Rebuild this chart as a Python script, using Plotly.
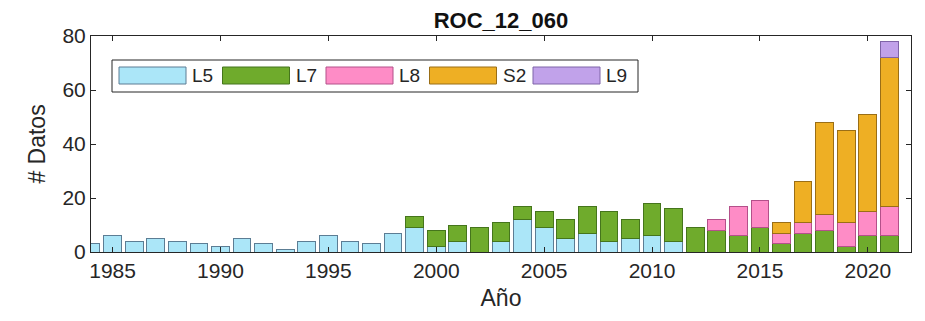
import plotly.graph_objects as go

years = list(range(1984, 2022))
L5 = [3, 6, 4, 5, 4, 3, 2, 5, 3, 1, 4, 6, 4, 3, 7, 9, 2, 4, 0, 4, 12, 9, 5, 7, 4, 5, 6, 4,
      0, 0, 0, 0, 0, 0, 0, 0, 0, 0]
L7 = [0, 0, 0, 0, 0, 0, 0, 0, 0, 0, 0, 0, 0, 0, 0, 4, 6, 6, 9, 7, 5, 6, 7, 10, 11, 7, 12, 12,
      9, 8, 6, 9, 3, 7, 8, 2, 6, 6]
L8 = [0] * 29 + [4, 11, 10, 4, 4, 6, 9, 9, 11]
S2 = [0] * 32 + [4, 15, 34, 34, 36, 55]
L9 = [0] * 37 + [6]

series_names = ["L5", "L7", "L8", "S2", "L9"]
series_values = [L5, L7, L8, S2, L9]
fill_colors = ["#abe6f8", "#6fab2c", "#fe8cc6", "#eeaf24", "#c1a2ea"]
edge_colors = ["#5c7d94", "#45751c", "#b4508a", "#9a6e16", "#7f64a8"]

x_ticks = [1985, 1990, 1995, 2000, 2005, 2010, 2015, 2020]
y_ticks = [0, 20, 40, 60, 80]

FONT = "Liberation Sans, Arial, Helvetica, sans-serif"
AX = "#262626"

# page (screenshot) coordinates; the page body has an 8px default margin
OFF = 8
PAGE_W, PAGE_H = 925, 321
W, H = PAGE_W - 2 * OFF, PAGE_H - 2 * OFF
PL, PR, PT, PB = 91, 911, 36, 252

fig = go.Figure()
for name, vals, fc, ec in zip(series_names, series_values, fill_colors, edge_colors):
    fig.add_trace(go.Bar(
        x=years, y=[v if v else None for v in vals], name=name, width=0.82,
        marker=dict(color=fc, line=dict(color=ec, width=1)),
        showlegend=False,
    ))

def px2x(px):
    return (px - PL) / (PR - PL)

def py2y(py):
    return (PB - py) / (PB - PT)

shapes = []
annotations = []
shapes.append(dict(type="rect", xref="paper", yref="paper",
                   x0=px2x(112), x1=px2x(638), y0=py2y(92), y1=py2y(60),
                   line=dict(color=AX, width=1), fillcolor="white", layer="above"))
sw_left = 119
step = 103.5
for i, (name, fc, ec) in enumerate(zip(series_names, fill_colors, edge_colors)):
    x0 = sw_left + i * step
    shapes.append(dict(type="rect", xref="paper", yref="paper",
                       x0=px2x(x0), x1=px2x(x0 + 67), y0=py2y(84), y1=py2y(67),
                       line=dict(color=ec, width=1), fillcolor=fc, layer="above"))
    annotations.append(dict(xref="paper", yref="paper", x=px2x(x0 + 71), y=py2y(75.5),
                            text=name, showarrow=False, xanchor="left", yanchor="middle",
                            font=dict(family=FONT, size=19, color=AX)))

fig.update_layout(
    width=W, height=H,
    margin=dict(l=PL - OFF, r=W - (PR - OFF), t=PT - OFF, b=H - (PB - OFF), autoexpand=False),
    barmode="stack",
    plot_bgcolor="white", paper_bgcolor="white",
    font=dict(family=FONT, size=21, color=AX),
    title=dict(text="<b>ROC_12_060</b>", x=((PL + PR) / 2 - OFF) / W, xanchor="center",
               y=1 - (20 - OFF) / H, yanchor="middle", font=dict(family=FONT, size=22, color="#111")),
    shapes=shapes,
    annotations=annotations,
    xaxis=dict(range=[1984, 2022], tickvals=x_ticks, ticks="inside", ticklen=5,
               tickcolor=AX, showline=True, linecolor=AX, linewidth=1, mirror="ticks",
               showgrid=False, zeroline=False, automargin=False,
               title=dict(text="Año", font=dict(family=FONT, size=23, color=AX), standoff=8),
               tickfont=dict(family=FONT, size=21, color=AX)),
    yaxis=dict(range=[0, 80], tickvals=y_ticks, ticks="inside", ticklen=5,
               tickcolor=AX, showline=True, linecolor=AX, linewidth=1, mirror="ticks",
               showgrid=False, zeroline=False, automargin=False,
               title=dict(text="# Datos", font=dict(family=FONT, size=23, color=AX), standoff=10),
               tickfont=dict(family=FONT, size=21, color=AX)),
)

fig.write_html("out.html")
